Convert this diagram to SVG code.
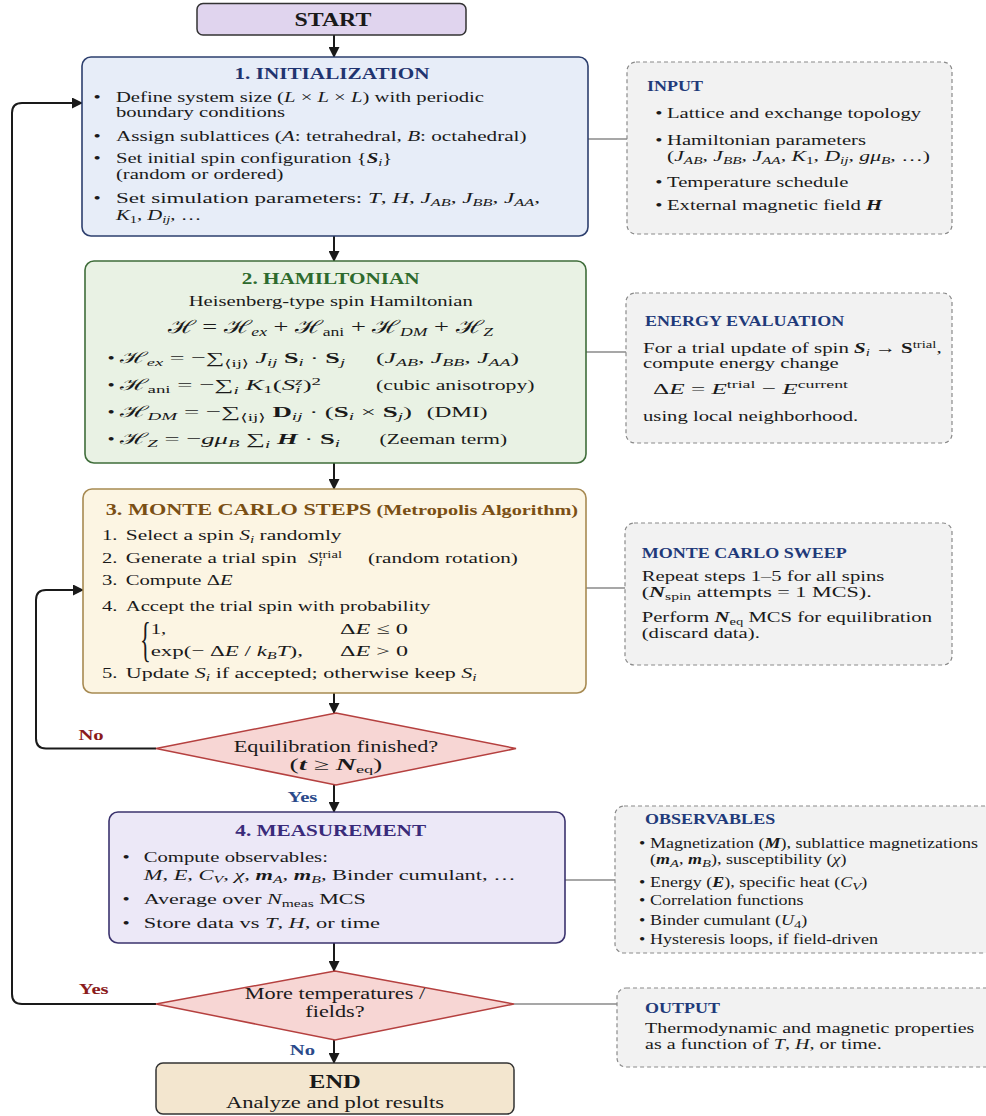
<svg xmlns="http://www.w3.org/2000/svg" width="986" height="1116" viewBox="0 0 986 1116">
<style>
.t{font-family:"Liberation Serif","Times New Roman","DejaVu Serif",serif;font-size:15.6px;fill:#1a1a1a}
.ttl{font-weight:bold;font-size:16px}
.st{font-family:"Liberation Serif","Times New Roman",serif;font-weight:bold;font-size:13.6px;fill:#1f3a7a}
.sm{font-size:13.6px}
.dm{font-size:16.8px}
.i{font-style:italic}
.b{font-weight:bold}
.bi{font-style:italic;font-weight:bold}
.s{font-size:11px}
.mid{text-anchor:middle}
.side{fill:#f2f2f2;stroke:#8a8a8a;stroke-width:1.2;stroke-dasharray:4 3}
.arrow{fill:none;stroke:#1a1a1a;stroke-width:2}
.gline{fill:none;stroke:#8a8a8a;stroke-width:1.5}
.red{fill:#8b1c1c;font-weight:bold}
.blue{fill:#2a4a8a;font-weight:bold}
</style>
<defs>
<marker id="ah" markerUnits="userSpaceOnUse" markerWidth="11" markerHeight="11" refX="10" refY="5.5" orient="auto">
<path d="M0,0 L11,5.5 L0,11 z" fill="#1a1a1a"/>
</marker>
</defs>

<g id="connectors">
<line class="arrow" x1="334" y1="35" x2="334" y2="57" marker-end="url(#ah)"/>
<line class="arrow" x1="334" y1="236" x2="334" y2="261" marker-end="url(#ah)"/>
<line class="arrow" x1="334" y1="463" x2="334" y2="489" marker-end="url(#ah)"/>
<line class="arrow" x1="334" y1="693" x2="334" y2="713" marker-end="url(#ah)"/>
<line class="arrow" x1="334" y1="785" x2="334" y2="812" marker-end="url(#ah)"/>
<line class="arrow" x1="334" y1="943" x2="334" y2="971" marker-end="url(#ah)"/>
<line class="arrow" x1="334" y1="1040" x2="334" y2="1063" marker-end="url(#ah)"/>
<path class="arrow" d="M156,748.5 H46 Q36,748.5 36,738.5 V600 Q36,590 46,590 H83" marker-end="url(#ah)"/>
<path class="arrow" d="M156,1004 H22 Q12,1004 12,994 V113 Q12,103 22,103 H82" marker-end="url(#ah)"/>
<line class="gline" x1="588" y1="139" x2="627" y2="139"/>
<line class="gline" x1="586" y1="352" x2="626" y2="352"/>
<line class="gline" x1="586" y1="588" x2="625" y2="588"/>
<line class="gline" x1="565" y1="880" x2="615" y2="880"/>
<line class="gline" x1="514" y1="1004" x2="617" y2="1004"/>
<g transform="scale(1.325 1)">
<text class="t red mid" x="68.7" y="740">No</text>
<text class="t blue mid" x="228.3" y="802">Yes</text>
<text class="t red mid" x="70.7" y="994">Yes</text>
<text class="t blue mid" x="228.3" y="1055">No</text>
</g>
</g>

<g id="start">
<rect x="197" y="3.5" width="269" height="31.5" rx="6" fill="#e0d4ee" stroke="#333" stroke-width="1.5"/>
<g transform="scale(1.325 1)"><text class="t ttl mid" x="251.3" y="26" style="font-size:18px">START</text></g>
</g>

<g id="init">
<rect x="82" y="57" width="506" height="179" rx="9" fill="#e7edf8" stroke="#2d3f6e" stroke-width="1.6"/>
<g transform="scale(1.325 1)">
<text class="t ttl mid" x="250.6" y="79" style="fill:#1f3470">1. INITIALIZATION</text>
<text class="t" x="70.5" y="102">•</text>
<text class="t" x="87.5" y="102">Define system size (<tspan class="i">L</tspan> × <tspan class="i">L</tspan> × <tspan class="i">L</tspan>) with periodic</text>
<text class="t" x="87.5" y="117">boundary conditions</text>
<text class="t" x="70.5" y="141">•</text>
<text class="t" x="87.5" y="141" textLength="309.9" lengthAdjust="spacingAndGlyphs">Assign sublattices (<tspan class="i">A</tspan>: tetrahedral, <tspan class="i">B</tspan>: octahedral)</text>
<text class="t" x="70.5" y="163">•</text>
<text class="t" x="87.5" y="163">Set initial spin configuration {<tspan class="bi">S</tspan><tspan class="s i" dy="3">i</tspan><tspan dy="-3">}</tspan></text>
<text class="t" x="87.5" y="179">(random or ordered)</text>
<text class="t" x="70.5" y="203">•</text>
<text class="t" x="87.5" y="203" textLength="320" lengthAdjust="spacingAndGlyphs">Set simulation parameters: <tspan class="i">T</tspan>, <tspan class="i">H</tspan>, <tspan class="i">J</tspan><tspan class="s i" dy="3">AB</tspan><tspan dy="-3">, </tspan><tspan class="i">J</tspan><tspan class="s i" dy="3">BB</tspan><tspan dy="-3">, </tspan><tspan class="i">J</tspan><tspan class="s i" dy="3">AA</tspan><tspan dy="-3">,</tspan></text>
<text class="t" x="87.5" y="220"><tspan class="i">K</tspan><tspan class="s" dy="3">1</tspan><tspan dy="-3">, </tspan><tspan class="i">D</tspan><tspan class="s i" dy="3">ij</tspan><tspan dy="-3">, …</tspan></text>
</g>
</g>

<g id="input">
<rect class="side" x="627" y="62" width="325" height="172" rx="9"/>
<g transform="scale(1.325 1)">
<text class="st" x="488.3" y="91">INPUT</text>
<text class="t" x="494.6" y="118">•</text>
<text class="t" x="503.4" y="118">Lattice and exchange topology</text>
<text class="t" x="494.6" y="145">•</text>
<text class="t" x="503.4" y="145">Hamiltonian parameters</text>
<text class="t" x="503.4" y="161" textLength="198.5" lengthAdjust="spacingAndGlyphs">(<tspan class="i">J</tspan><tspan class="s i" dy="3">AB</tspan><tspan dy="-3">, </tspan><tspan class="i">J</tspan><tspan class="s i" dy="3">BB</tspan><tspan dy="-3">, </tspan><tspan class="i">J</tspan><tspan class="s i" dy="3">AA</tspan><tspan dy="-3">, </tspan><tspan class="i">K</tspan><tspan class="s" dy="3">1</tspan><tspan dy="-3">, </tspan><tspan class="i">D</tspan><tspan class="s i" dy="3">ij</tspan><tspan dy="-3">, </tspan><tspan class="i">gμ</tspan><tspan class="s i" dy="3">B</tspan><tspan dy="-3">, …)</tspan></text>
<text class="t" x="494.6" y="187">•</text>
<text class="t" x="503.4" y="187">Temperature schedule</text>
<text class="t" x="494.6" y="210">•</text>
<text class="t" x="503.4" y="210">External magnetic field <tspan class="bi">H</tspan></text>
</g>
</g>

<g id="hamiltonian">
<rect x="85" y="261" width="501" height="202" rx="9" fill="#e9f2e4" stroke="#3f6d3a" stroke-width="1.6"/>
<g transform="scale(1.325 1)">
<text class="t ttl mid" x="249.6" y="284" style="fill:#2d6a2d">2. HAMILTONIAN</text>
<text class="t mid" x="249.6" y="306">Heisenberg-type spin Hamiltonian</text>
<text class="t" x="126.8" y="333" textLength="245.3" lengthAdjust="spacingAndGlyphs" style="font-size:18px">ℋ = ℋ<tspan class="i" style="font-size:12px" dy="3">ex</tspan><tspan dy="-3"> + ℋ</tspan><tspan style="font-size:12px" dy="3">ani</tspan><tspan dy="-3"> + ℋ</tspan><tspan class="i" style="font-size:12px" dy="3">DM</tspan><tspan dy="-3"> + ℋ</tspan><tspan class="i" style="font-size:12px" dy="3">Z</tspan></text>
<text class="t" x="81.1" y="363">•</text>
<text class="t" x="90.3" y="363" textLength="170.1" lengthAdjust="spacingAndGlyphs">ℋ<tspan class="s i" dy="3">ex</tspan><tspan dy="-3"> = −∑</tspan><tspan class="s" dy="4">⟨ij⟩</tspan><tspan class="i" dy="-4"> J</tspan><tspan class="s i" dy="3">ij</tspan><tspan class="b" dy="-3"> S</tspan><tspan class="s i" dy="3">i</tspan><tspan dy="-3"> · </tspan><tspan class="b">S</tspan><tspan class="s i" dy="3">j</tspan></text>
<text class="t" x="283.8" y="363" textLength="108" lengthAdjust="spacingAndGlyphs">(<tspan class="i">J</tspan><tspan class="s i" dy="3">AB</tspan><tspan dy="-3">, </tspan><tspan class="i">J</tspan><tspan class="s i" dy="3">BB</tspan><tspan dy="-3">, </tspan><tspan class="i">J</tspan><tspan class="s i" dy="3">AA</tspan><tspan dy="-3">)</tspan></text>
<text class="t" x="81.1" y="390">•</text>
<text class="t" x="90.3" y="390" textLength="152" lengthAdjust="spacingAndGlyphs">ℋ<tspan class="s" dy="3">ani</tspan><tspan dy="-3"> = −∑</tspan><tspan class="s i" dy="4">i</tspan><tspan class="i" dy="-4"> K</tspan><tspan class="s" dy="3">1</tspan><tspan dy="-3">(</tspan><tspan class="i">S</tspan><tspan class="s i" dy="3">i</tspan><tspan class="s i" dx="-3" dy="-8">z</tspan><tspan dy="5">)</tspan><tspan class="s" dy="-5">2</tspan></text>
<text class="t" x="283.8" y="390" textLength="119.6" lengthAdjust="spacingAndGlyphs">(cubic anisotropy)</text>
<text class="t" x="81.1" y="417">•</text>
<text class="t" x="90.3" y="417" textLength="220.7" lengthAdjust="spacingAndGlyphs">ℋ<tspan class="s i" dy="3">DM</tspan><tspan dy="-3"> = −∑</tspan><tspan class="s" dy="4">⟨ij⟩</tspan><tspan class="b" dy="-4"> D</tspan><tspan class="s i" dy="3">ij</tspan><tspan dy="-3"> · (</tspan><tspan class="b">S</tspan><tspan class="s i" dy="3">i</tspan><tspan dy="-3"> × </tspan><tspan class="b">S</tspan><tspan class="s i" dy="3">j</tspan><tspan dy="-3">)</tspan></text>
<text class="t" x="322" y="417" textLength="46" lengthAdjust="spacingAndGlyphs">(DMI)</text>
<text class="t" x="81.1" y="444">•</text>
<text class="t" x="90.3" y="444" textLength="166.3" lengthAdjust="spacingAndGlyphs">ℋ<tspan class="s i" dy="3">Z</tspan><tspan dy="-3"> = −</tspan><tspan class="i">gμ</tspan><tspan class="s i" dy="3">B</tspan><tspan dy="-3"> ∑</tspan><tspan class="s i" dy="4">i</tspan><tspan class="bi" dy="-4"> H</tspan><tspan> · </tspan><tspan class="b">S</tspan><tspan class="s i" dy="3">i</tspan></text>
<text class="t" x="286.5" y="444" textLength="96.2" lengthAdjust="spacingAndGlyphs">(Zeeman term)</text>
</g>
</g>

<g id="energy">
<rect class="side" x="626" y="293" width="326" height="150" rx="9"/>
<g transform="scale(1.325 1)">
<text class="st" x="486.8" y="326">ENERGY EVALUATION</text>
<text class="t" x="485.3" y="353" textLength="225.4" lengthAdjust="spacingAndGlyphs">For a trial update of spin <tspan class="bi">S</tspan><tspan class="s i" dy="3">i</tspan><tspan dy="-3"> → </tspan><tspan class="b">S</tspan><tspan class="s" dy="-5">trial</tspan><tspan dy="5">,</tspan></text>
<text class="t" x="485.3" y="368">compute energy change</text>
<text class="t" x="492.8" y="394" textLength="147.2" lengthAdjust="spacingAndGlyphs">Δ<tspan class="i">E</tspan> = <tspan class="i">E</tspan><tspan class="s" dy="-6">trial</tspan><tspan dy="6"> − </tspan><tspan class="i">E</tspan><tspan class="s" dy="-6">current</tspan></text>
<text class="t" x="485.3" y="421">using local neighborhood.</text>
</g>
</g>

<g id="montecarlo">
<rect x="83" y="489" width="503" height="204" rx="9" fill="#fcf5e3" stroke="#a78a52" stroke-width="1.6"/>
<g transform="scale(1.325 1)">
<text class="t ttl" x="79.8" y="515" style="fill:#7a4f14;font-size:16.8px">3. MONTE CARLO STEPS<tspan style="font-size:15.3px"> (Metropolis Algorithm)</tspan></text>
<text class="t" x="77" y="540">1.</text>
<text class="t" x="94.9" y="540" textLength="162.9" lengthAdjust="spacingAndGlyphs">Select a spin <tspan class="i">S</tspan><tspan class="s i" dy="3">i</tspan><tspan dy="-3"> randomly</tspan></text>
<text class="t" x="77" y="563">2.</text>
<text class="t" x="94.9" y="563" textLength="129.1" lengthAdjust="spacingAndGlyphs">Generate a trial spin</text>
<text class="t" x="232.5" y="563"><tspan class="i">S</tspan><tspan class="s i" dy="3">i</tspan><tspan class="s" dx="-3" dy="-8">trial</tspan></text>
<text class="t" x="277.7" y="563" textLength="113.2" lengthAdjust="spacingAndGlyphs">(random rotation)</text>
<text class="t" x="77" y="585">3.</text>
<text class="t" x="94.9" y="585">Compute Δ<tspan class="i">E</tspan></text>
<text class="t" x="77" y="611">4.</text>
<text class="t" x="94.9" y="611">Accept the trial spin with probability</text>
<text class="t" x="113.7" y="634">1,</text>
<text class="t" x="256.6" y="634" textLength="51.3" lengthAdjust="spacingAndGlyphs">Δ<tspan class="i">E</tspan> ≤ 0</text>
<text class="t" x="113.7" y="656" textLength="114.9" lengthAdjust="spacingAndGlyphs">exp(− Δ<tspan class="i">E</tspan> / <tspan class="i">k</tspan><tspan class="s i" dy="3">B</tspan><tspan class="i" dy="-3">T</tspan>),</text>
<text class="t" x="256.6" y="656" textLength="51.3" lengthAdjust="spacingAndGlyphs">Δ<tspan class="i">E</tspan> &gt; 0</text>
<text class="t" x="77" y="678">5.</text>
<text class="t" x="94.9" y="678" textLength="264.8" lengthAdjust="spacingAndGlyphs">Update <tspan class="i">S</tspan><tspan class="s i" dy="3">i</tspan><tspan dy="-3"> if accepted; otherwise keep </tspan><tspan class="i">S</tspan><tspan class="s i" dy="3">i</tspan></text>
</g>
<text class="t" transform="translate(140,656) scale(0.7,1.5)" style="font-size:32px">{</text>
</g>

<g id="sweep">
<rect class="side" x="625" y="523" width="327" height="142" rx="9"/>
<g transform="scale(1.325 1)">
<text class="st" x="484.3" y="558">MONTE CARLO SWEEP</text>
<text class="t" x="484.3" y="581">Repeat steps 1–5 for all spins</text>
<text class="t" x="484.3" y="597" textLength="173.6" lengthAdjust="spacingAndGlyphs">(<tspan class="bi">N</tspan><tspan class="s" dy="3">spin</tspan><tspan dy="-3"> attempts = 1 MCS).</tspan></text>
<text class="t" x="484.3" y="622">Perform <tspan class="bi">N</tspan><tspan class="s" dy="3">eq</tspan><tspan dy="-3"> MCS for equilibration</tspan></text>
<text class="t" x="484.3" y="638">(discard data).</text>
</g>
</g>

<g id="decision1">
<polygon points="336,713 516,748.5 336,785 156,748.5" fill="#f7d6d4" stroke="#b5403f" stroke-width="1.5"/>
<g transform="scale(1.325 1)">
<text class="t dm mid" x="253.6" y="752">Equilibration finished?</text>
<text class="t dm mid" x="253.6" y="770" textLength="70" lengthAdjust="spacingAndGlyphs">(<tspan class="bi">t</tspan> ≥ <tspan class="bi">N</tspan><tspan class="s" dy="3">eq</tspan><tspan dy="-3">)</tspan></text>
</g>
</g>

<g id="measurement">
<rect x="109" y="812" width="456" height="131" rx="9" fill="#ece8f7" stroke="#3b336e" stroke-width="1.6"/>
<g transform="scale(1.325 1)">
<text class="t ttl mid" x="249.6" y="836" style="fill:#3a2b7a">4. MEASUREMENT</text>
<text class="t" x="92.4" y="862">•</text>
<text class="t" x="108.5" y="862">Compute observables:</text>
<text class="t" x="108.5" y="880" textLength="280.7" lengthAdjust="spacingAndGlyphs"><tspan class="i">M</tspan>, <tspan class="i">E</tspan>, <tspan class="i">C</tspan><tspan class="s i" dy="3">V</tspan><tspan dy="-3">, </tspan><tspan class="i">χ</tspan>, <tspan class="bi">m</tspan><tspan class="s i" dy="3">A</tspan><tspan dy="-3">, </tspan><tspan class="bi">m</tspan><tspan class="s i" dy="3">B</tspan><tspan dy="-3">, Binder cumulant, …</tspan></text>
<text class="t" x="92.4" y="904">•</text>
<text class="t" x="108.5" y="904" textLength="167.6" lengthAdjust="spacingAndGlyphs">Average over <tspan class="i">N</tspan><tspan class="s" dy="3">meas</tspan><tspan dy="-3"> MCS</tspan></text>
<text class="t" x="92.4" y="928">•</text>
<text class="t" x="108.5" y="928" textLength="178.3" lengthAdjust="spacingAndGlyphs">Store data vs <tspan class="i">T</tspan>, <tspan class="i">H</tspan>, or time</text>
</g>
</g>

<g id="observables">
<rect class="side" x="615" y="806" width="392" height="147" rx="9"/>
<g transform="scale(1.325 1)">
<text class="st" x="486.8" y="824">OBSERVABLES</text>
<text class="t sm" x="482.2" y="848">•</text>
<text class="t sm" x="490.6" y="848">Magnetization (<tspan class="bi">M</tspan>), sublattice magnetizations</text>
<text class="t sm" x="490.6" y="864">(<tspan class="bi">m</tspan><tspan class="s i" dy="3">A</tspan><tspan dy="-3">, </tspan><tspan class="bi">m</tspan><tspan class="s i" dy="3">B</tspan><tspan dy="-3">), susceptibility (</tspan><tspan class="i">χ</tspan>)</text>
<text class="t sm" x="482.2" y="887">•</text>
<text class="t sm" x="490.6" y="887">Energy (<tspan class="bi">E</tspan>), specific heat (<tspan class="i">C</tspan><tspan class="s i" dy="3">V</tspan><tspan dy="-3">)</tspan></text>
<text class="t sm" x="482.2" y="905">•</text>
<text class="t sm" x="490.6" y="905">Correlation functions</text>
<text class="t sm" x="482.2" y="925">•</text>
<text class="t sm" x="490.6" y="925">Binder cumulant (<tspan class="i">U</tspan><tspan class="s" dy="3">4</tspan><tspan dy="-3">)</tspan></text>
<text class="t sm" x="482.2" y="944">•</text>
<text class="t sm" x="490.6" y="944">Hysteresis loops, if field-driven</text>
</g>
</g>

<g id="decision2">
<polygon points="335,971 514,1004 335,1040 156,1004" fill="#f7d6d4" stroke="#b5403f" stroke-width="1.5"/>
<g transform="scale(1.325 1)">
<text class="t dm mid" x="252.8" y="999">More temperatures /</text>
<text class="t dm mid" x="252.8" y="1017">fields?</text>
</g>
</g>

<g id="output">
<rect class="side" x="617" y="988" width="392" height="79" rx="9"/>
<g transform="scale(1.325 1)">
<text class="st" x="486.8" y="1013">OUTPUT</text>
<text class="t" x="486.8" y="1033" style="font-size:15.1px">Thermodynamic and magnetic properties</text>
<text class="t" x="486.8" y="1049" style="font-size:15.1px">as a function of <tspan class="i">T</tspan>, <tspan class="i">H</tspan>, or time.</text>
</g>
</g>

<g id="end">
<rect x="156" y="1063" width="358" height="51" rx="7" fill="#f3e6cf" stroke="#333" stroke-width="1.5"/>
<g transform="scale(1.325 1)">
<text class="t ttl mid" x="252.8" y="1088" style="font-size:18.5px">END</text>
<text class="t mid" x="252.8" y="1108" style="font-size:17px">Analyze and plot results</text>
</g>
</g>
</svg>
